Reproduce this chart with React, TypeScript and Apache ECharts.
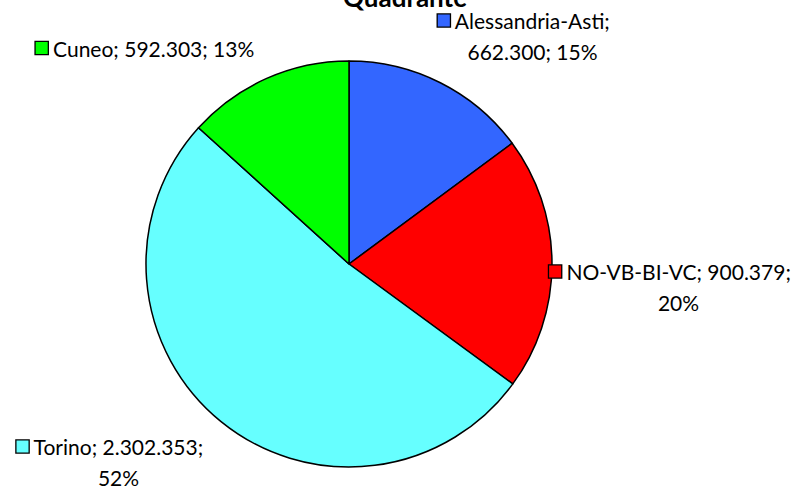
import React, { useEffect, useRef } from "react";
import * as echarts from "echarts";

const categories = ["Alessandria-Asti", "NO-VB-BI-VC", "Torino", "Cuneo"];
const values = [662300, 900379, 2302353, 592303];
const colors = ["#3366FF", "#FF0000", "#66FFFF", "#00FF00"];
const titleText = "Quadrante";

// label block centres (layout only)
const labelPos = [
  { x: 524, y: 36, twoLines: true },
  { x: 670, y: 287, twoLines: true },
  { x: 110, y: 462, twoLines: true },
  { x: 145, y: 48, twoLines: false },
];

const FONT = "Lato";
const FS = 21;

function fmt(v: number) {
  return String(v).replace(/\B(?=(\d{3})+(?!\d))/g, ".");
}

export default function App() {
  const ref = useRef<HTMLDivElement>(null);
  useEffect(() => {
    document.body.style.margin = "0";
    const chart = echarts.init(ref.current!, null, { renderer: "svg" });
    const total = values.reduce((a, b) => a + b, 0);
    const rich: any = {
      t: { fontFamily: FONT, fontSize: FS, color: "#000", lineHeight: 31 },
      sp: { width: 17, fontSize: FS, lineHeight: 31 },
    };
    colors.forEach((c, i) => {
      rich["sq" + i] = {
        width: 12,
        height: 12,
        backgroundColor: c,
        borderColor: "#000",
        borderWidth: 1.3,
        padding: 0,
      };
    });
    chart.setOption({
      animation: false,
      title: {
        text: titleText,
        left: "center",
        top: -21,
        textStyle: { fontFamily: FONT, fontSize: 26, fontWeight: "bold", color: "#000" },
      },
      series: [
        {
          type: "pie",
          center: [349, 264],
          radius: 203,
          startAngle: 90,
          clockwise: true,
          data: categories.map((name, i) => ({
            name,
            value: values[i],
            itemStyle: { color: colors[i] },
          })),
          itemStyle: { borderColor: "#000", borderWidth: 1.5 },
          emphasis: { disabled: true },
          labelLine: { show: false },
          label: {
            show: true,
            position: "outside",
            overflow: "none",
            edgeDistance: 0,
            formatter: (p: any) => {
              const i = p.dataIndex;
              const pct = Math.round((p.value / total) * 100) + "%";
              const v = fmt(p.value);
              if (labelPos[i].twoLines) {
                if (i === 0) {
                  return `{sq${i}|}{t| ${p.name};}\n{sp| }{t|${v}; ${pct}}`;
                }
                return `{sq${i}|}{t| ${p.name}; ${v};}\n{sp| }{t|${pct}}`;
              }
              return `{sq${i}|}{t| ${p.name}; ${v}; ${pct}}`;
            },
            rich,
            align: "center",
          },
          labelLayout: (params: any) => {
            const lp = labelPos[params.dataIndex];
            return { x: lp.x, y: lp.y, align: "center", verticalAlign: "middle", width: 400 };
          },
        },
      ],
    });
    return () => chart.dispose();
  }, []);
  return <div ref={ref} style={{ width: 810, height: 488 }} />;
}
